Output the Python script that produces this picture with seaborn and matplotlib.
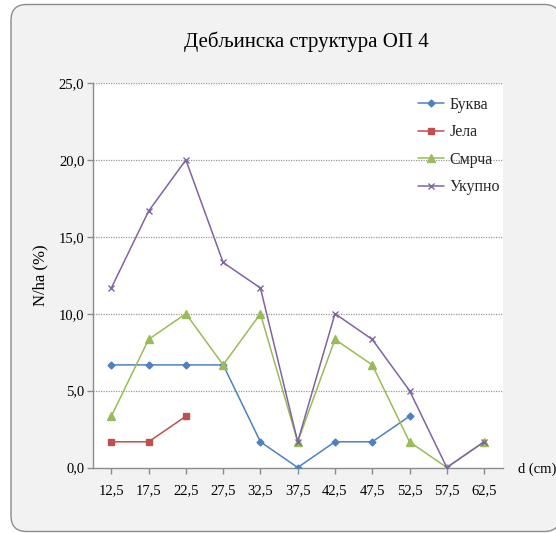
import matplotlib
matplotlib.use("Agg")
import matplotlib.pyplot as plt
from matplotlib.patches import FancyBboxPatch
import numpy as np
import pandas as pd
import seaborn as sns

# Diameter classes (cm) and share of trees per hectare (%)
diameters = ["12,5", "17,5", "22,5", "27,5", "32,5", "37,5", "42,5", "47,5", "52,5", "57,5", "62,5"]
bukva = [6.67, 6.67, 6.67, 6.67, 1.67, 0.0, 1.67, 1.67, 3.33, None, None]
jela = [1.67, 1.67, 3.33, None, None, None, None, None, None, None, None]
smrca = [3.33, 8.33, 10.0, 6.67, 10.0, 1.67, 8.33, 6.67, 1.67, 0.0, 1.67]
ukupno = [11.67, 16.67, 20.0, 13.33, 11.67, 1.67, 10.0, 8.33, 5.0, 0.0, 1.67]
y_ticks = [0, 5, 10, 15, 20, 25]

sns.set_theme(style="white")
plt.rcParams["font.family"] = ["Liberation Serif", "DejaVu Serif"]

W, H = 556, 533
fig = plt.figure(figsize=(W / 100, H / 100), dpi=100)
fig.patch.set_facecolor("white")

# rounded chart-area frame, kept behind the axes
frame = FancyBboxPatch((11 / W, 1 - 531.5 / H), (560 - 11) / W, (531.5 - 4.5) / H,
                       boxstyle="round,pad=0,rounding_size=0.028",
                       transform=fig.transFigure, facecolor="#f2f2f2",
                       edgecolor="#8c8c8c", linewidth=1.0, zorder=-5,
                       mutation_aspect=W / H)
fig.patches.append(frame)

ax = fig.add_axes([92.7 / W, 1 - 467.5 / H, (502.7 - 92.7) / W, (467.5 - 83) / H])
ax.set_zorder(1)
ax.set_facecolor("white")

x = np.arange(len(diameters))
series = [
    ("Буква", bukva, "#4F81BD", "D", 3.5),
    ("Јела", jela, "#C0504D", "s", 5),
    ("Смрча", smrca, "#9BBB59", "^", 5.5),
    ("Укупно", ukupno, "#8064A2", "x", 5),
]
for name, vals, color, marker, ms in series:
    df = pd.DataFrame({"x": x, "y": [np.nan if v is None else v for v in vals]}).dropna()
    sns.lineplot(data=df, x="x", y="y", ax=ax, color=color, marker=marker,
                 markersize=ms, markeredgecolor=color, markeredgewidth=1.0,
                 linewidth=1.1, label=name, zorder=3)

ax.set_xlim(-0.5, 10.5)
ax.set_ylim(0, 25)
ax.set_yticks(y_ticks)
ax.set_yticklabels([f"{v:.1f}".replace(".", ",") for v in y_ticks])
ax.set_xticks(x)
ax.set_xticklabels(diameters)
ax.set_xlabel("")
ax.set_ylabel("")

for v in y_ticks[1:]:
    ax.axhline(v, color="#9a9a9a", linewidth=0.9, linestyle=(0, (1, 1)), zorder=1)

for side in ["top", "right"]:
    ax.spines[side].set_visible(False)
for side in ["left", "bottom"]:
    ax.spines[side].set_color("#8c8c8c")
    ax.spines[side].set_linewidth(1.0)

ax.tick_params(axis="y", which="major", left=True, length=4, width=1.0, color="#8c8c8c",
               pad=2, labelsize=10.5, labelcolor="black")
ax.tick_params(axis="x", which="major", bottom=True, length=4, width=1.0, color="#8c8c8c",
               pad=8, labelsize=10.5, labelcolor="black")

leg = ax.legend(loc="upper left", bbox_to_anchor=(410 / W, 1 - 89 / H),
                bbox_transform=fig.transFigure, frameon=False, fontsize=11.5,
                handlelength=1.65, handletextpad=0.3, labelspacing=0.72, borderpad=0)

fig.text(306 / W, 1 - 42 / H, "Дебљинска структура ОП 4", ha="center", va="center",
         fontsize=15, color="black")
fig.text(40 / W, 1 - 275 / H, "N/ha (%)", ha="center", va="center", rotation=90,
         fontsize=12, color="black")
fig.text(518 / W, 1 - 469 / H, "d (cm)", ha="left", va="center", fontsize=10.5, color="black")

fig.savefig("out.png", dpi=100)
